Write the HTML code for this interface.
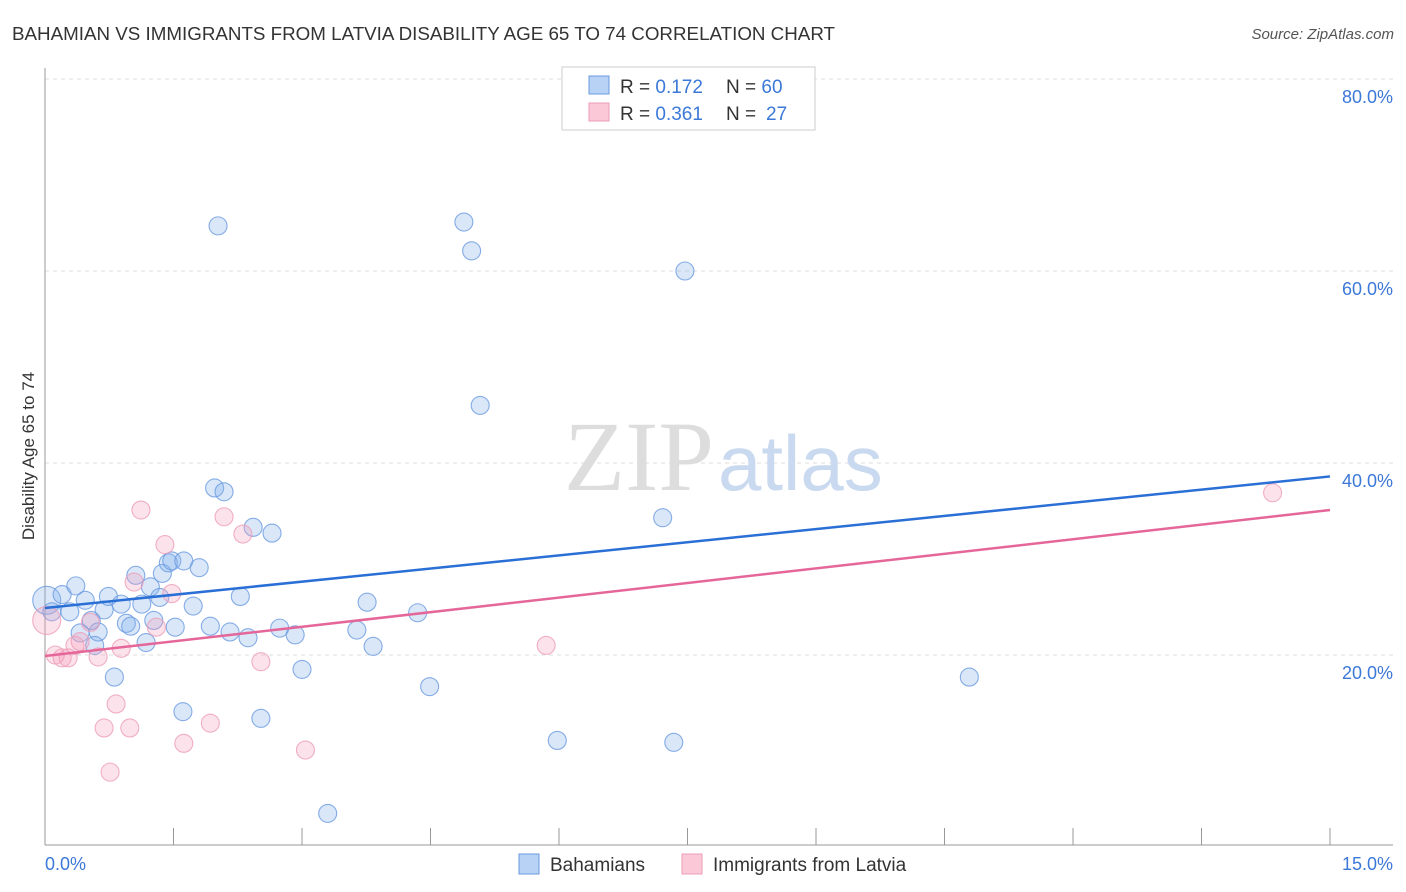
<!DOCTYPE html>
<html><head><meta charset="utf-8"><style>
body{margin:0;background:#fff;font-family:"Liberation Sans",sans-serif;}
</style></head><body>
<svg id="chart" width="1406" height="892" style="display:block">
<text x="12" y="40" font-size="18" fill="#333" textLength="823" lengthAdjust="spacingAndGlyphs">BAHAMIAN VS IMMIGRANTS FROM LATVIA DISABILITY AGE 65 TO 74 CORRELATION CHART</text>
<text x="1394" y="39" font-size="15" fill="#555" font-style="italic" text-anchor="end">Source: ZipAtlas.com</text>
<text x="34" y="456" font-size="17" fill="#333" text-anchor="middle" transform="rotate(-90 34 456)">Disability Age 65 to 74</text>
<g id="grid"></g>
<text x="714" y="490" font-size="100" fill="#ddd" text-anchor="end" font-family="Liberation Serif,serif">ZIP</text>
<text x="718" y="490" font-size="78" fill="#c9d9ef">atlas</text>
<g id="marks"></g>
<g>
<rect x="562" y="67" width="253" height="63" fill="#fff" stroke="#ccc"/>
<rect x="589" y="76" width="20" height="18" fill="#b7d2f5" stroke="#6a9ae0"/>
<rect x="589" y="103" width="20" height="18" fill="#fbc8d8" stroke="#ec9db7"/>
<text x="620" y="93" font-size="19" fill="#333">R = <tspan fill="#3b78d8">0.172</tspan></text>
<text x="726" y="93" font-size="19" fill="#333">N = <tspan fill="#3b78d8">60</tspan></text>
<text x="620" y="120" font-size="19" fill="#333">R = <tspan fill="#3b78d8">0.361</tspan></text>
<text x="726" y="120" font-size="19" fill="#333">N =  <tspan fill="#3b78d8" x="766">27</tspan></text>
</g>
<g>
<rect x="519" y="854" width="20" height="20" fill="#b7d2f5" stroke="#6a9ae0"/>
<text x="550" y="871" font-size="19" fill="#333">Bahamians</text>
<rect x="682" y="854" width="20" height="20" fill="#fbc8d8" stroke="#ec9db7"/>
<text x="713" y="871" font-size="19" fill="#333">Immigrants from Latvia</text>
</g>
<text x="45" y="870" font-size="18" fill="#3b78d8">0.0%</text>
<text x="1393" y="870" font-size="18" fill="#3b78d8" text-anchor="end">15.0%</text>
</svg>
<script>
const yTicks=[20,40,60,80];
const yTickLabels=["20.0%","40.0%","60.0%","80.0%"];
const blueX=[0.02,0.08,0.20,0.29,0.36,0.47,0.41,0.54,0.62,0.58,0.69,0.74,0.81,0.89,0.95,1.00,1.06,1.13,1.18,1.23,1.27,1.34,1.37,1.44,1.52,1.48,1.62,1.61,1.73,1.80,1.93,1.98,2.09,2.02,2.16,2.28,2.37,2.43,2.52,2.65,2.74,2.92,3.00,3.30,3.64,3.76,3.83,4.35,4.49,4.89,4.98,5.08,5.98,7.21,7.34,7.47,10.79];
const blueY=[25.7,24.5,26.3,24.5,27.2,25.7,22.3,23.6,22.4,21.0,24.7,26.1,17.7,25.3,23.3,23.0,28.3,25.3,21.3,27.1,23.6,26.0,28.5,29.6,22.9,29.8,29.8,14.1,25.1,29.1,23.0,37.4,37.0,64.7,22.4,26.1,21.8,33.3,13.4,32.7,22.8,22.1,18.5,3.5,22.6,25.5,20.9,24.4,16.7,65.1,62.1,46.0,11.1,34.3,10.9,60.0,17.7];
const pinkX=[0.02,0.12,0.20,0.27,0.35,0.41,0.53,0.62,0.69,0.76,0.83,0.89,0.99,1.04,1.12,1.30,1.40,1.48,1.62,1.93,2.09,2.31,2.52,3.04,5.85,14.33];
const pinkY=[23.6,20.0,19.7,19.7,21.0,21.4,23.4,19.8,12.4,7.8,14.9,20.7,12.4,27.6,35.1,22.9,31.5,26.4,10.8,12.9,34.4,32.6,19.3,10.1,21.0,36.9];
const blueTrend=[24.9,38.6];
const pinkTrend=[19.9,35.1];
const NS="http://www.w3.org/2000/svg";
const sx=v=>45+v/15*1285;
const sy=v=>847-v*9.6;
function mk(t,a,p){const e=document.createElementNS(NS,t);for(const k in a)e.setAttribute(k,a[k]);p.appendChild(e);return e;}
const grid=document.getElementById('grid'),marks=document.getElementById('marks');
yTicks.forEach((t,i)=>{
 const l=mk('line',{x1:45,x2:1393,y1:sy(t),y2:sy(t),stroke:'#ddd','stroke-dasharray':'4,4'},grid);
 
 
 const tx=mk('text',{x:1393,y:sy(t)+24,'font-size':18,fill:'#3b78d8','text-anchor':'end'},grid);
 tx.textContent=yTickLabels[i];
 
 
});
const ax=mk('line',{x1:45,x2:45,y1:68,y2:845,stroke:'#999'},grid);


const bx=mk('line',{x1:45,x2:1393,y1:845,y2:845,stroke:'#999'},grid);


for(let i=0;i<=10;i++){const t=mk('line',{x1:sx(i*1.5),x2:sx(i*1.5),y1:828,y2:845,stroke:'#999'},grid);
 
 }
function pts(X,Y,f,s,nm){X.forEach((x,i)=>{const r=(i===0)?14:9;const c=mk('circle',{cx:sx(x),cy:sy(Y[i]),r:r,fill:f,stroke:s,'stroke-width':1.1,'stroke-opacity':0.8},marks);
 
 });}
pts(blueX,blueY,'rgba(130,175,235,0.3)','#6a9ae0','bahamian-point');
pts(pinkX,pinkY,'rgba(245,160,188,0.3)','#ec9db7','latvia-point');
const bl=mk('line',{x1:sx(0),y1:sy(blueTrend[0]),x2:sx(15),y2:sy(blueTrend[1]),stroke:'#2a6fd6','stroke-width':2.5},marks);


const pl=mk('line',{x1:sx(0),y1:sy(pinkTrend[0]),x2:sx(15),y2:sy(pinkTrend[1]),stroke:'#e5679a','stroke-width':2.5},marks);


</script>
</body></html>
